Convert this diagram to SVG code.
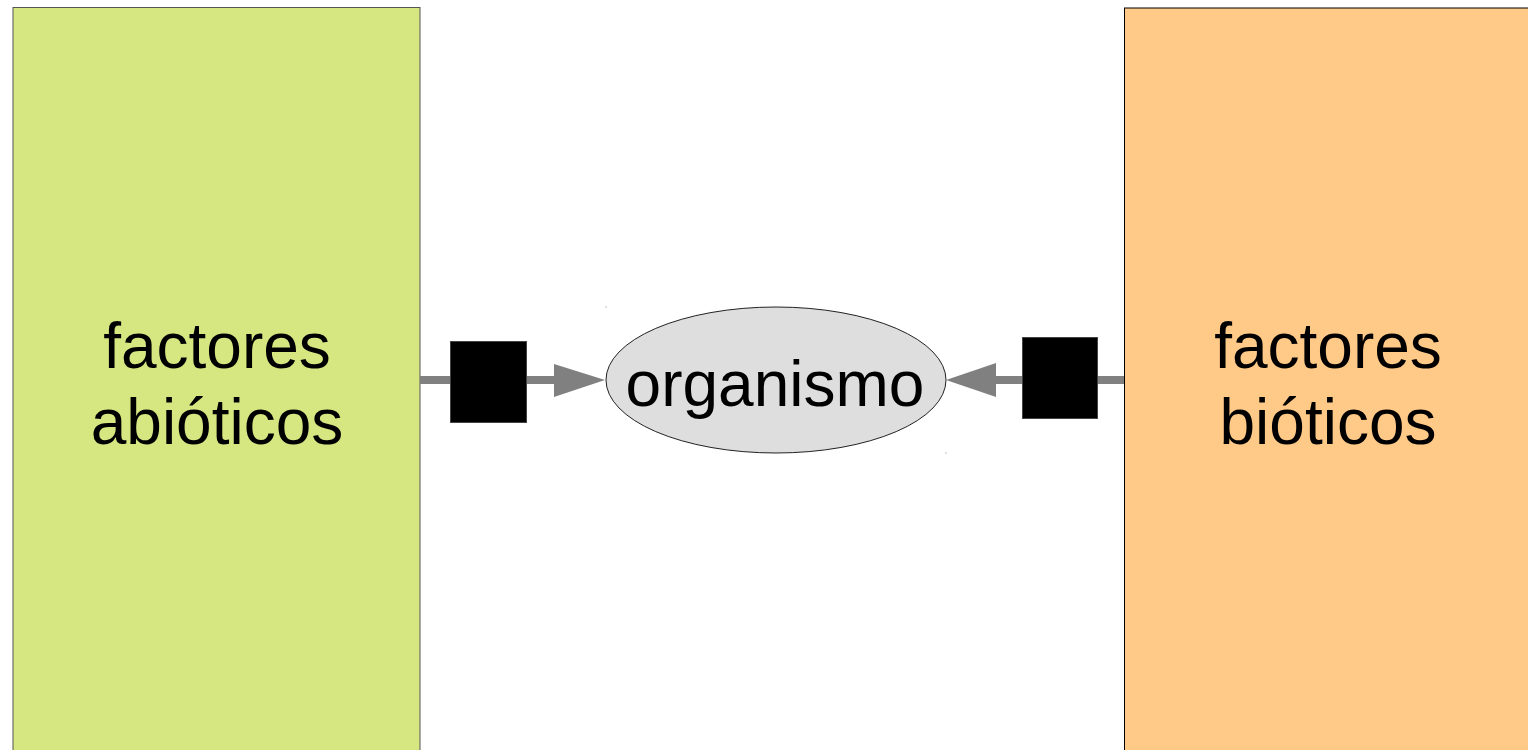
<svg xmlns="http://www.w3.org/2000/svg" width="1528" height="750" viewBox="0 0 1528 750">
<style>
.lbl{font-family:"Liberation Sans",Arial,sans-serif;font-size:64px;fill:#000;text-anchor:middle}
.conn{stroke:#808080;stroke-width:8;fill:none}
.blk{fill:#000;stroke:#444;stroke-width:1}
.head{fill:#808080}
</style>
<rect width="1528" height="750" fill="#fff"/>
<g id="abioticos">
<rect x="13" y="7.5" width="407" height="760" fill="#d6e681" stroke="#555" stroke-width="1"/>
<text class="lbl" x="217" y="368">factores</text>
<text class="lbl" x="217" y="444">abióticos</text>
</g>
<g id="bioticos">
<rect x="1124.5" y="8" width="420" height="760" fill="#ffc987" stroke="#000" stroke-width="1"/>
<text class="lbl" x="1328" y="368">factores</text>
<text class="lbl" x="1328" y="444">bióticos</text>
</g>
<g id="organismo">
<ellipse cx="776" cy="380" rx="170" ry="73" fill="#dedede" stroke="#222" stroke-width="1"/>
<text class="lbl" x="775" y="406">organismo</text>
<rect x="605.5" y="306.5" width="1" height="1" fill="#888"/>
<rect x="945.5" y="452.5" width="1" height="1" fill="#888"/>
</g>
<g id="connectors">
<line class="conn" x1="420" y1="380" x2="556" y2="380"/>
<polygon class="head" points="554,364 605,380 554,397"/>
<rect class="blk" x="450.5" y="341.5" width="76" height="81"/>
<line class="conn" x1="1124" y1="380" x2="994" y2="380"/>
<polygon class="head" points="996,363 946,380 996,397"/>
<rect class="blk" x="1022.5" y="337.5" width="75" height="81"/>
</g>
</svg>
